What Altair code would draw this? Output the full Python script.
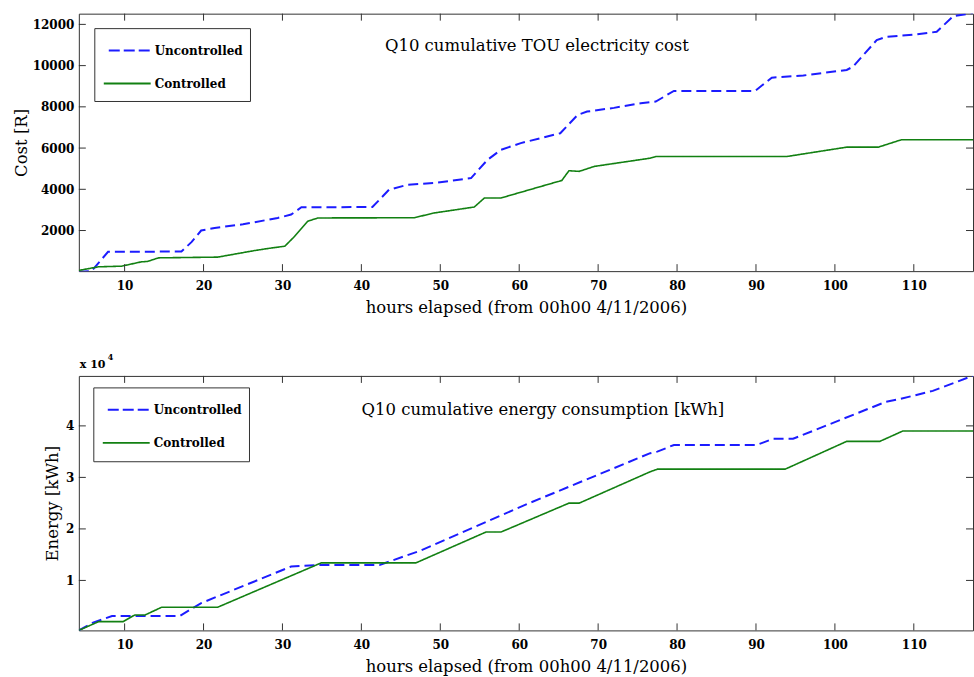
import altair as alt
import pandas as pd

# ---------------- data ----------------
series_names = ["Uncontrolled", "Controlled"]

cost_unc_hours = [4.2, 5.8, 7.9, 9.0, 17.2, 18.5, 19.7, 21.4, 25.0, 29.4, 31.1, 32.4,
                  41.4, 43.5, 45.9, 49.2, 53.9, 56.0, 57.7, 60.2, 65.2, 67.4, 68.6,
                  72.0, 75.4, 77.3, 79.6, 89.9, 92.0, 96.0, 101.5, 102.3, 105.3,
                  106.5, 110.0, 112.9, 115.0, 117.6]
cost_unc = [0, 30, 965, 970, 980, 1450, 2000, 2126, 2300, 2610, 2774, 3127,
            3140, 3980, 4225, 4303, 4545, 5435, 5920, 6240, 6720, 7610, 7770,
            7950, 8175, 8255, 8773, 8773, 9417, 9520, 9790, 9950, 11240,
            11400, 11500, 11640, 12400, 12560]

cost_ctl_hours = [4.2, 6.7, 9.6, 12.1, 12.9, 14.3, 21.8, 26.5, 28.2, 30.3, 31.5,
                  33.2, 34.5, 46.7, 49.2, 54.3, 55.6, 57.7, 65.4, 66.3, 67.6,
                  69.5, 76.6, 77.3, 93.9, 101.5, 105.5, 108.4, 117.6]
cost_ctl = [65, 240, 270, 480, 500, 675, 710, 1030, 1130, 1240, 1700,
            2450, 2610, 2620, 2850, 3140, 3580, 3580, 4430, 4900, 4870,
            5110, 5510, 5590, 5590, 6045, 6045, 6400, 6400]

energy_unc_hours = [4.2, 6.0, 8.4, 17.0, 19.7, 31.1, 34.5, 42.3, 47.5, 61.1,
                    76.6, 77.5, 79.6, 90.1, 92.2, 94.7, 106.5, 108.2, 112.4, 117.6]
energy_unc = [300, 1800, 3100, 3100, 5600, 12700, 13000, 13000, 15800, 24900,
              34700, 35000, 36300, 36300, 37500, 37500, 44700, 45200, 46800, 49800]

energy_ctl_hours = [4.2, 6.7, 9.8, 11.3, 12.6, 14.7, 21.8, 34.9, 46.9, 55.8,
                    57.7, 66.3, 67.6, 76.6, 77.5, 93.7, 101.5, 105.7, 108.6, 117.6]
energy_ctl = [300, 2000, 2000, 3300, 3300, 4800, 4800, 13400, 13400, 19400,
              19400, 25000, 25000, 31100, 31600, 31600, 37000, 37000, 39000, 39000]

x_ticks = [10, 20, 30, 40, 50, 60, 70, 80, 90, 100, 110]
cost_ticks = [2000, 4000, 6000, 8000, 10000, 12000]
energy_ticks = [10000, 20000, 30000, 40000]

x_domain = [4.2, 117.5]
cost_domain = [30, 12520]
energy_domain = [300, 49700]

FONT = "DejaVu Serif"
TFS = 16.5
W = 896
H_TOP = 258
H_BOT = 255
TICK = 7
BOX = "#333333"
BLUE = "#1c1cff"
GREEN = "#128012"


def long_df(h1, v1, h2, v2):
    a = pd.DataFrame({"hours": h1, "value": v1, "series": series_names[0]})
    b = pd.DataFrame({"hours": h2, "value": v2, "series": series_names[1]})
    return pd.concat([a, b], ignore_index=True)


def legend_layers(box, rows):
    """box = (x1, y1, x2, y2) in panel pixels; rows = y centre of each entry."""
    one = pd.DataFrame({"k": [0]})
    rect = alt.Chart(one).mark_rect(fill="white", stroke=BOX, strokeWidth=1).encode(
        x=alt.value(box[0]), x2=alt.value(box[2]), y=alt.value(box[1]), y2=alt.value(box[3]))
    l1 = alt.Chart(one).mark_rule(color=BLUE, strokeWidth=2, strokeDash=[11, 4]).encode(
        x=alt.value(box[0] + 14), x2=alt.value(box[0] + 56), y=alt.value(rows[0]))
    l2 = alt.Chart(one).mark_rule(color=GREEN, strokeWidth=1.8).encode(
        x=alt.value(box[0] + 9), x2=alt.value(box[0] + 56), y=alt.value(rows[1]))
    t1 = alt.Chart(pd.DataFrame({"name": [series_names[0]]})).mark_text(
        font=FONT, fontSize=12, fontWeight="bold", color="black", align="left", baseline="middle"
    ).encode(text="name:N", x=alt.value(box[0] + 60), y=alt.value(rows[0]))
    t2 = alt.Chart(pd.DataFrame({"name": [series_names[1]]})).mark_text(
        font=FONT, fontSize=12, fontWeight="bold", color="black", align="left", baseline="middle"
    ).encode(text="name:N", x=alt.value(box[0] + 60), y=alt.value(rows[1]))
    return [rect, l1, l2, t1, t2]


def panel(df, y_title, y_domain, y_ticks, label_expr, title_text, title_pos,
          height, ytitle_x, box, rows, extra=None):
    xscale = alt.Scale(domain=x_domain, nice=False, zero=False)
    yscale = alt.Scale(domain=y_domain, nice=False, zero=False)
    xaxis = alt.Axis(values=x_ticks, title="hours elapsed (from 00h00 4/11/2006)",
                     labelPadding=9, titlePadding=8, format="d")
    yaxis = alt.Axis(values=y_ticks, title=y_title, labelExpr=label_expr,
                     labelPadding=5, titleX=ytitle_x)

    lines = alt.Chart(df).mark_line(clip=True).encode(
        x=alt.X("hours:Q", scale=xscale, axis=xaxis),
        y=alt.Y("value:Q", scale=yscale, axis=yaxis),
        color=alt.Color("series:N", scale=alt.Scale(domain=series_names, range=[BLUE, GREEN]),
                        legend=None),
        strokeDash=alt.StrokeDash("series:N",
                                  scale=alt.Scale(domain=series_names, range=[[10, 5], [1, 0]]),
                                  legend=None),
        strokeWidth=alt.StrokeWidth("series:N",
                                    scale=alt.Scale(domain=series_names, range=[2.0, 1.6]),
                                    legend=None),
    )

    xt = pd.DataFrame({"hours": x_ticks})
    yt = pd.DataFrame({"value": y_ticks})
    tb = alt.Chart(xt).mark_rule(color=BOX, strokeWidth=1).encode(
        x=alt.X("hours:Q", scale=xscale, axis=xaxis), y=alt.value(height), y2=alt.value(height - TICK))
    tt = alt.Chart(xt).mark_rule(color=BOX, strokeWidth=1).encode(
        x=alt.X("hours:Q", scale=xscale, axis=xaxis), y=alt.value(0), y2=alt.value(TICK))
    tl = alt.Chart(yt).mark_rule(color=BOX, strokeWidth=1).encode(
        y=alt.Y("value:Q", scale=yscale, axis=yaxis), x=alt.value(0), x2=alt.value(TICK))
    tr = alt.Chart(yt).mark_rule(color=BOX, strokeWidth=1).encode(
        y=alt.Y("value:Q", scale=yscale, axis=yaxis), x=alt.value(W), x2=alt.value(W - TICK))

    ttl = alt.Chart(pd.DataFrame({"t": [title_text]})).mark_text(
        font=FONT, fontSize=TFS, color="black", align="center", baseline="middle"
    ).encode(text="t:N", x=alt.value(title_pos[0]), y=alt.value(title_pos[1]))

    layers = [lines, tb, tt, tl, tr, ttl] + legend_layers(box, rows)
    if extra:
        layers += extra
    return alt.layer(*layers).properties(width=W, height=height)


top = panel(long_df(cost_unc_hours, cost_unc, cost_ctl_hours, cost_ctl),
            "Cost [R]", cost_domain, cost_ticks, "format(datum.value, 'd')",
            "Q10 cumulative TOU electricity cost", (459, 32), H_TOP, -49,
            (16, 15, 172, 88), [37, 70])

exp_main = alt.Chart(pd.DataFrame({"t": ["x 10"]})).mark_text(
    font=FONT, fontSize=11, fontWeight="bold", color="black", align="left", baseline="alphabetic"
).encode(text="t:N", x=alt.value(1), y=alt.value(-8))
exp_sup = alt.Chart(pd.DataFrame({"t": ["4"]})).mark_text(
    font=FONT, fontSize=8, fontWeight="bold", color="black", align="left", baseline="alphabetic"
).encode(text="t:N", x=alt.value(29), y=alt.value(-16))

bottom = panel(long_df(energy_unc_hours, energy_unc, energy_ctl_hours, energy_ctl),
               "Energy [kWh]", energy_domain, energy_ticks, "format(datum.value / 10000, 'd')",
               "Q10 cumulative energy consumption [kWh]", (465, 34), H_BOT, -18,
               (15, 12, 171, 86), [34, 67], extra=[exp_main, exp_sup])

chart = alt.vconcat(top, bottom, spacing=37).resolve_scale(
    color="independent", strokeDash="independent", strokeWidth="independent"
).properties(
    padding={"left": 13, "top": 12, "right": 0, "bottom": 0},
    background="white",
).configure_view(
    stroke=BOX, strokeWidth=1
).configure_axis(
    domain=False, ticks=False, grid=False,
    labelFont=FONT, labelFontSize=12, labelFontWeight="bold", labelColor="black",
    titleFont=FONT, titleFontSize=TFS, titleFontWeight="normal", titleColor="black",
)

chart.save("out.html", embed_options={"renderer": "svg", "actions": False})
